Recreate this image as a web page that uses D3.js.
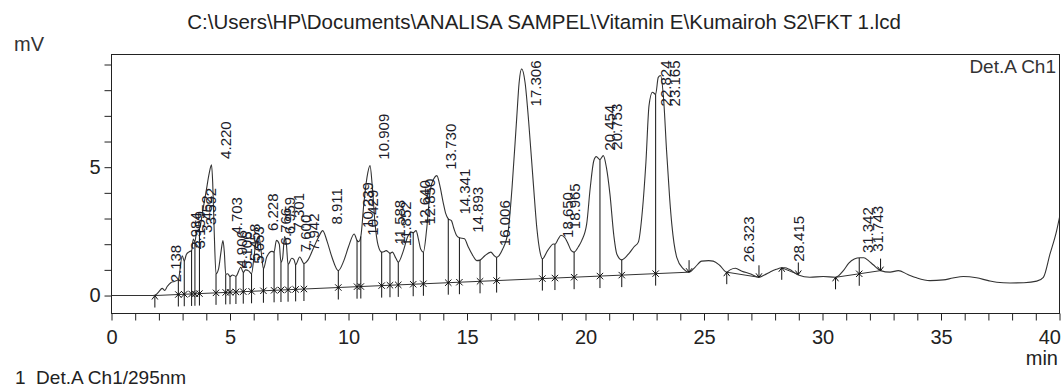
<!DOCTYPE html>
<html><head><meta charset="utf-8">
<script src="https://cdn.jsdelivr.net/npm/d3@7/dist/d3.min.js"></script>
<style>
html,body{margin:0;padding:0;background:#fff;}
svg{display:block;font-family:"Liberation Sans",Arial,sans-serif;}
</style></head><body>
<svg id="chart" width="1061" height="389"></svg>
<script>
// Detector trace: [retention time (min), signal (mV)]
const trace = [
  [0,0],[1.0,0],[1.75,0],[1.9,0.05],[2.0,0.15],[2.138,0.28],[2.25,0.2],[2.35,0.35],[2.5,0.5],[2.65,0.55],
  [2.82,0.62],[2.984,1.55],[3.07,1.35],[3.159,1.6],[3.27,1.7],[3.38,1.75],[3.452,2.2],[3.52,2.1],[3.592,2.5],
  [3.71,2.6],[3.85,3.3],[4.0,4.1],[4.12,4.75],[4.22,5.09],[4.27,4.4],[4.33,2.6],[4.41,0.85],[4.52,1.05],
  [4.62,1.7],[4.703,2.14],[4.76,1.7],[4.82,0.82],[4.906,0.85],[5.0,0.74],[5.106,0.8],[5.25,0.75],[5.458,1.1],
  [5.56,0.9],[5.653,1.0],[5.8,0.95],[5.91,0.85],[6.0,1.4],[6.1,2.1],[6.228,2.28],[6.33,1.6],[6.41,1.04],
  [6.55,1.5],[6.766,1.72],[6.86,1.7],[6.959,2.15],[7.08,2.0],[7.15,1.3],[7.22,1.45],[7.301,2.3],[7.38,2.0],
  [7.45,1.2],[7.6,1.45],[7.7,1.4],[7.77,1.2],[7.942,1.5],[8.12,1.25],[8.3,1.4],[8.5,1.8],[8.75,2.3],[8.911,2.53],
  [9.1,2.1],[9.3,1.5],[9.57,0.97],[9.8,1.35],[10.0,1.9],[10.239,2.4],[10.36,2.15],[10.429,2.1],[10.52,2.3],
  [10.65,3.6],[10.78,4.6],[10.909,5.06],[11.0,4.3],[11.12,2.8],[11.25,1.95],[11.4,1.69],[11.52,1.72],[11.588,1.75],
  [11.7,1.68],[11.75,1.65],[11.852,1.69],[12.0,1.45],[12.1,1.3],[12.3,1.7],[12.5,2.3],[12.64,2.47],[12.73,2.45],
  [12.85,2.53],[12.95,2.2],[13.05,1.8],[13.16,1.69],[13.3,2.6],[13.45,4.1],[13.6,4.55],[13.73,4.67],[13.85,4.3],
  [14.0,3.6],[14.1,3.2],[14.21,2.99],[14.341,2.92],[14.45,2.6],[14.56,2.34],[14.68,2.25],[14.893,2.21],[15.05,1.9],
  [15.25,1.55],[15.41,1.36],[15.55,1.38],[15.75,1.55],[16.006,1.69],[16.15,1.55],[16.25,1.49],[16.5,1.8],
  [16.74,2.53],[16.9,4.2],[17.1,6.95],[17.2,8.3],[17.306,8.83],[17.45,8.3],[17.6,6.8],[17.8,4.35],[17.95,2.6],
  [18.08,1.7],[18.18,1.43],[18.4,1.75],[18.65,2.01],[18.71,2.0],[18.85,2.2],[18.965,2.35],[19.13,2.25],[19.25,2.05],
  [19.4,1.75],[19.52,1.69],[19.7,1.9],[19.84,2.14],[20.05,2.79],[20.2,4.2],[20.35,5.25],[20.454,5.41],[20.61,5.3],
  [20.753,5.45],[20.88,5.0],[21.03,3.96],[21.2,2.3],[21.32,1.62],[21.53,1.39],[21.8,1.6],[22.05,1.9],[22.23,2.08],
  [22.4,3.3],[22.55,5.2],[22.68,7.4],[22.824,7.92],[22.96,7.84],[23.07,8.5],[23.165,8.57],[23.3,7.6],[23.42,5.65],
  [23.55,3.8],[23.64,2.79],[23.85,1.49],[24.13,1.04],[24.37,0.91],[24.62,1.1],[24.9,1.34],[25.2,1.36],[25.39,1.34],
  [25.67,1.17],[25.96,0.91],[26.1,1.0],[26.323,1.06],[26.6,0.95],[26.94,0.85],[27.32,0.71],[27.55,0.8],[27.78,0.91],
  [28.05,1.02],[28.28,1.08],[28.415,1.08],[28.6,1.02],[28.98,0.8],[29.47,0.71],[30.03,0.74],[30.55,0.71],[30.88,0.97],
  [31.1,1.25],[31.342,1.42],[31.58,1.47],[31.743,1.47],[31.95,1.35],[32.14,1.2],[32.45,0.97],[32.85,0.91],[33.2,0.97],
  [33.6,0.82],[33.97,0.69],[34.53,0.58],[35.1,0.61],[35.5,0.68],[35.94,0.74],[36.5,0.69],[37.0,0.58],[37.35,0.52],
  [37.91,0.49],[38.5,0.5],[39.04,0.56],[39.32,0.71],[39.6,1.62],[39.88,2.53],[40.0,3.05]
];

// Labelled peak retention times (min)
const peakTimes = [
  2.138,2.984,3.159,3.452,3.592,4.220,4.703,4.906,5.106,5.458,5.653,6.228,6.766,6.959,7.301,7.600,7.942,
  8.911,10.239,10.429,10.909,11.588,11.852,12.640,12.850,13.730,14.341,14.893,16.006,17.306,18.650,18.965,
  20.454,20.753,22.824,23.165,26.323,28.415,31.342,31.743
];

// Perpendicular drops between unresolved peaks (min)
const dropTimes = [
  2.82,3.07,3.38,3.52,3.71,4.41,4.82,5.0,5.25,5.56,5.91,6.41,6.86,7.15,7.45,7.77,8.12,9.57,10.36,10.52,
  11.4,11.75,12.1,12.73,13.16,14.21,14.68,15.55,16.25,18.18,18.71,19.52,20.61,21.53,22.96,31.55
];

// Integration baselines: start and end points [min, mV]
const baselineFrom = [[1.83,0.0],[25.96,0.91],[28.28,1.08],[30.55,0.71]];
const baselineTo   = [[24.37,0.91],[27.32,0.71],[28.98,0.82],[32.45,0.97]];

const xTicks = d3.range(0, 41, 1);
const xLabels = [0,5,10,15,20,25,30,35,40];
const yTicks = d3.range(0, 10, 1);
const yLabels = [0,5];

const titleText = "C:\\Users\\HP\\Documents\\ANALISA SAMPEL\\Vitamin E\\Kumairoh S2\\FKT 1.lcd";
const channelText = "Det.A Ch1";
const footText = "1  Det.A Ch1/295nm";

const svg = d3.select("#chart");
const pLeft = 111.5, pRight = 1059.5, pTop = 54.5, pBottom = 313.5;

const x = d3.scaleLinear().domain([0, 40]).range([pLeft, pRight]);
const y = d3.scaleLinear().domain([-0.7, 9.39]).range([pBottom, pTop]);

const tT = trace.map(d => d[0]), tV = trace.map(d => d[1]);
function curveAt(t) {
  const i = d3.bisectLeft(tT, t);
  if (i <= 0) return tV[0];
  if (i >= tT.length) return tV[tV.length - 1];
  return tV[i-1] + (tV[i] - tV[i-1]) * (t - tT[i-1]) / (tT[i] - tT[i-1]);
}
function baseAt(t) {
  for (let k = 0; k < baselineFrom.length; k++) {
    const a = baselineFrom[k], b = baselineTo[k];
    if (t >= a[0] && t <= b[0]) return a[1] + (b[1] - a[1]) * (t - a[0]) / (b[0] - a[0]);
  }
  return curveAt(t);
}

svg.append("defs").append("clipPath").attr("id", "plotClip")
  .append("rect").attr("x", pLeft).attr("y", pTop).attr("width", pRight - pLeft).attr("height", pBottom - pTop);

// Axes
const yAxis = d3.axisLeft(y).tickValues(yTicks).tickSize(7).tickSizeOuter(0).tickPadding(4)
  .tickFormat(d => yLabels.includes(d) ? String(d) : "");
const gy = svg.append("g").attr("transform", `translate(${pLeft},0)`).call(yAxis);
gy.select(".domain").remove();

const xAxis = d3.axisBottom(x).tickValues(xTicks).tickSize(7).tickSizeOuter(0).tickPadding(9)
  .tickFormat(d => xLabels.includes(d) ? String(d) : "");
const gx = svg.append("g").attr("transform", `translate(0,${pBottom})`).call(xAxis);
gx.select(".domain").remove();

[gx, gy].forEach(g => {
  g.selectAll("line").attr("stroke", "#222");
  g.selectAll("text").attr("fill", "#222").style("font-size", "20px")
    .style("font-family", '"Liberation Sans", Arial, sans-serif');
});
// keep the last time label inside the page edge
gx.selectAll(".tick").filter(d => d === 40).select("text").attr("text-anchor", "end").attr("dx", "1");

// Frame
svg.append("rect").attr("x", pLeft).attr("y", pTop).attr("width", pRight - pLeft).attr("height", pBottom - pTop)
  .attr("fill", "none").attr("stroke", "#222").attr("stroke-width", 1);

const plot = svg.append("g").attr("clip-path", "url(#plotClip)");

// Integration baselines
plot.selectAll(".baseline").data(baselineFrom).join("line")
  .attr("x1", d => x(d[0])).attr("y1", d => y(d[1]))
  .attr("x2", (d, i) => x(baselineTo[i][0])).attr("y2", (d, i) => y(baselineTo[i][1]))
  .attr("stroke", "#333").attr("stroke-width", 1);

// Trace
plot.append("path").datum(trace)
  .attr("d", d3.line().x(d => x(d[0])).y(d => y(d[1])).curve(d3.curveMonotoneX))
  .attr("fill", "none").attr("stroke", "#333").attr("stroke-width", 1.1);

// Perpendicular drop lines with crossing marks on the baseline
const drops = plot.selectAll(".drop").data(dropTimes).join("g");
drops.append("line")
  .attr("x1", t => x(t)).attr("x2", t => x(t))
  .attr("y1", t => y(curveAt(t))).attr("y2", t => y(baseAt(t)) + 12)
  .attr("stroke", "#111").attr("stroke-width", 1);
drops.append("path")
  .attr("d", t => { const cx = x(t), cy = y(baseAt(t)), r = 3.2;
    return `M${cx-r},${cy-r}L${cx+r},${cy+r}M${cx-r},${cy+r}L${cx+r},${cy-r}`; })
  .attr("stroke", "#111").attr("stroke-width", 1).attr("fill", "none");

// Start (upward) and end (downward) arrows
function arrow(t, up) {
  const cx = x(t), cy = y(baseAt(t)), L = 12, h = 3;
  if (up) return `M${cx},${cy+L}L${cx},${cy}M${cx-h},${cy+h+1}L${cx},${cy}L${cx+h},${cy+h+1}`;
  return `M${cx},${cy-L}L${cx},${cy}M${cx-h},${cy-h-1}L${cx},${cy}L${cx+h},${cy-h-1}`;
}
plot.selectAll(".start").data(baselineFrom).join("path")
  .attr("d", d => arrow(d[0], true)).attr("stroke", "#111").attr("fill", "none");
plot.selectAll(".end").data(baselineTo).join("path")
  .attr("d", d => arrow(d[0], false)).attr("stroke", "#111").attr("fill", "none");

// Peak retention time labels
const labels = svg.append("g").style("font-size", "15px").attr("fill", "#1c1c2a");
peakTimes.forEach(t => {
  const txt = labels.append("text").text(t.toFixed(3)).attr("text-anchor", "start");
  const len = txt.node().getComputedTextLength();
  let base = y(curveAt(t)) - 6;
  if (base - len < pTop + 6) base = pTop + 6 + len;
  txt.attr("transform", `translate(${x(t) + 19},${base}) rotate(-90)`);
});

// Texts
svg.append("text").attr("x", 544).attr("y", 29).attr("text-anchor", "middle")
  .style("font-size", "20.5px").attr("fill", "#222").text(titleText);
svg.append("text").attr("x", 14).attr("y", 51).style("font-size", "20px").attr("fill", "#333").text("mV");
svg.append("text").attr("x", 1058).attr("y", 365).attr("text-anchor", "end")
  .style("font-size", "20px").attr("fill", "#222").text("min");
svg.append("text").attr("x", 1056).attr("y", 73).attr("text-anchor", "end")
  .style("font-size", "19px").attr("fill", "#333").text(channelText);
svg.append("text").attr("x", 15).attr("y", 384).style("font-size", "19px").style("white-space", "pre")
  .attr("fill", "#222").text(footText);
</script>
</body></html>
